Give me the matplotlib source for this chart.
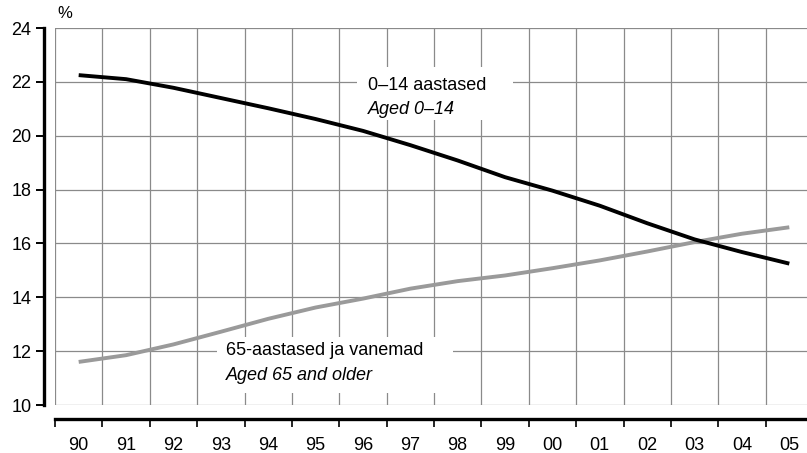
import numpy as np
import matplotlib.pyplot as plt

plt.rcParams['font.family'] = ['Liberation Sans', 'DejaVu Sans']

# ------------------------------
# Data
# ------------------------------
years = ["90", "91", "92", "93", "94", "95", "96", "97",
         "98", "99", "00", "01", "02", "03", "04", "05"]
aged_0_14 = [22.25, 22.1, 21.78, 21.4, 21.02, 20.62, 20.18, 19.65,
             19.08, 18.46, 17.96, 17.4, 16.75, 16.15, 15.68, 15.25]
aged_65_plus = [11.6, 11.85, 12.25, 12.72, 13.2, 13.62, 13.95, 14.32,
                14.6, 14.81, 15.08, 15.37, 15.7, 16.05, 16.36, 16.6]
y_ticks = [10, 12, 14, 16, 18, 20, 22, 24]

# ------------------------------
# Figure
# ------------------------------
W, H = 807, 453
fig = plt.figure(figsize=(W / 100, H / 100), dpi=100)
ax = fig.add_axes([55 / W, 1 - 405 / H, (813 - 55) / W, (405 - 28) / H])

x = np.arange(len(years))
ax.plot(x, aged_0_14, color="black", lw=2.8, solid_capstyle="butt", zorder=4)
ax.plot(x, aged_65_plus, color="#9a9a9a", lw=2.8, solid_capstyle="butt", zorder=3)

ax.set_xlim(-0.5, len(years) - 0.5)
ax.set_ylim(10, 24)

# category labels at centres, tick marks / grid at boundaries
ax.set_xticks(x)
ax.set_xticklabels(years)
ax.set_xticks(np.arange(-0.5, len(years)), minor=True)
ax.tick_params(axis="x", which="major", length=0, pad=13, labelsize=13)
ax.tick_params(axis="x", which="minor", length=6, width=1.2, direction="out")
ax.set_yticks(y_ticks)
ax.tick_params(axis="y", length=6, width=1.4, pad=3, labelsize=13)

ax.grid(True, axis="x", which="minor", color="#8a8a8a", lw=0.9)
ax.grid(True, axis="y", which="major", color="#8a8a8a", lw=0.9)
ax.set_axisbelow(True)

for s in ["top", "right"]:
    ax.spines[s].set_visible(False)
ax.spines["left"].set_position(("outward", 8))
ax.spines["left"].set_linewidth(2.4)
ax.spines["bottom"].set_position(("outward", 10))
ax.spines["bottom"].set_linewidth(2.4)

ax.text(-0.45, 24.25, "%", fontsize=12, ha="left", va="bottom")

# white label boxes hiding the grid
def label_box(x0, y0, x1, y1):
    (dx0, dy0), (dx1, dy1) = ax.transData.inverted().transform(
        [fig.transFigure.transform((x0 / W, 1 - y0 / H)),
         fig.transFigure.transform((x1 / W, 1 - y1 / H))])
    ax.add_patch(plt.Rectangle((dx0, dy1), dx1 - dx0, dy0 - dy1,
                               facecolor="white", edgecolor="none", zorder=2))

label_box(357, 67, 513, 120)
label_box(217, 337, 453, 393)

ax.text(6.1, 21.85, "0\u201314 aastased", fontsize=13, ha="left", va="center", zorder=5)
ax.text(6.1, 20.96, "Aged 0\u201314", fontsize=13, style="italic", ha="left", va="center", zorder=5)
ax.text(3.1, 12.02, "65-aastased ja vanemad", fontsize=13, ha="left", va="center", zorder=5)
ax.text(3.1, 11.1, "Aged 65 and older", fontsize=13, style="italic", ha="left", va="center", zorder=5)

fig.savefig("out.png", dpi=100)
